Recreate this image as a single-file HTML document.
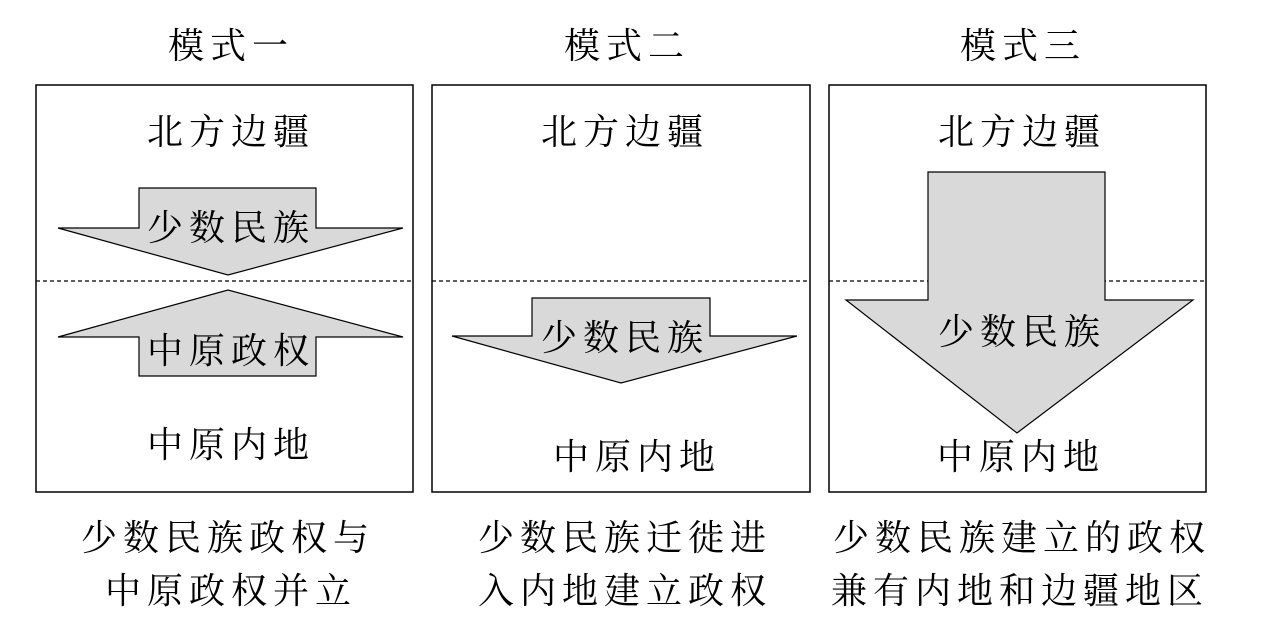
<!DOCTYPE html>
<html><head><meta charset="utf-8"><style>
html,body{margin:0;padding:0;background:#fff;}
svg text{font-family:"Noto Serif CJK SC","Noto Serif CJK","Noto Serif CJK JP","Liberation Serif",serif;font-size:36px;letter-spacing:6px;fill:#000;}
</style></head><body>
<svg width="1262" height="638" viewBox="0 0 1262 638" xmlns="http://www.w3.org/2000/svg">
<g fill="none" stroke="#000" stroke-width="1.5">
<rect x="36" y="85" width="377" height="407"/>
<rect x="432" y="85" width="378" height="407"/>
<rect x="829" y="85" width="377" height="407"/>
</g>
<g stroke="#000" stroke-width="1.2" stroke-dasharray="4,3">
<line x1="36" y1="281" x2="413" y2="281"/>
<line x1="432" y1="281" x2="810" y2="281"/>
<line x1="829" y1="281" x2="1206" y2="281"/>
</g>
<g fill="#d9d9d9" stroke="#000" stroke-width="1.2">
<polygon points="139,188 316,188 316,228 403,228 228,275 58,228 139,228"/>
<polygon points="139,376 316,376 316,337 403,337 228,290 58,337 139,337"/>
<polygon points="532,298 710,298 710,336 797,336 621,383 452,336 532,336"/>
<polygon points="928,172 1105,172 1105,300 1193,300 1017,433 846,300 928,300"/>
</g>
<g text-anchor="middle">
<text x="231" y="58">模式一</text>
<text x="627" y="58">模式二</text>
<text x="1023" y="58">模式三</text>
<text x="231" y="144">北方边疆</text>
<text x="625" y="144">北方边疆</text>
<text x="1022" y="144">北方边疆</text>
<text x="231" y="240">少数民族</text>
<text x="231" y="363">中原政权</text>
<text x="625" y="350">少数民族</text>
<text x="1022" y="344">少数民族</text>
<text x="231" y="457">中原内地</text>
<text x="637" y="469">中原内地</text>
<text x="1021" y="469">中原内地</text>
<text x="228" y="550">少数民族政权与</text>
<text x="231" y="603">中原政权并立</text>
<text x="625" y="550">少数民族迁徙进</text>
<text x="625" y="603">入内地建立政权</text>
<text x="1022" y="550">少数民族建立的政权</text>
<text x="1020" y="603">兼有内地和边疆地区</text>
</g>
</svg>
</body></html>
